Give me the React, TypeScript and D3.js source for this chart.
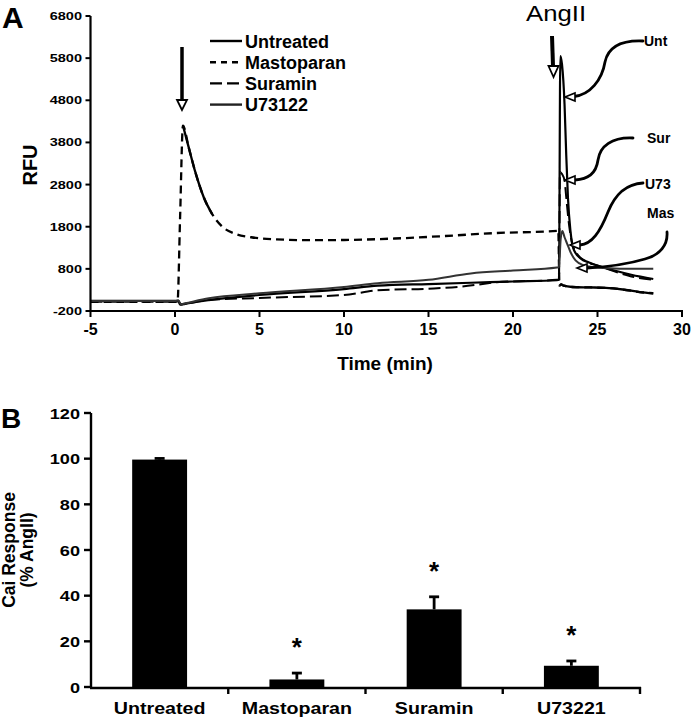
import React from "react";
import * as d3 from "d3";

// ---------- Panel A data (time in min, RFU) ----------
const untreatedT = [-5, 0, 0.2, 0.3, 0.6, 1, 2, 5, 10, 12, 15, 17.5, 20, 22.6, 22.72, 22.8, 22.9, 23.05, 23.15, 23.25, 23.4, 23.6, 24, 24.5, 25.2, 26, 27, 28.3];
const untreatedV = [40, 40, 45, -50, -30, 0, 60, 180, 320, 400, 440, 470, 500, 530, 540, 5850, 5650, 4700, 3500, 2500, 1700, 1250, 1050, 950, 850, 760, 660, 560];

const mastoparanT = [-5, 0, 0.15, 0.3, 0.47, 0.8, 1.2, 1.7, 2.2, 2.8, 3.5, 4.5, 6, 8, 10, 13, 16, 19, 22.6, 22.68, 22.75, 22.85, 23.0, 23.5, 24.5, 25.5, 26.5, 27.5, 28.3];
const mastoparanV = [20, 20, 30, 2000, 4200, 3700, 3100, 2500, 2100, 1800, 1640, 1550, 1500, 1480, 1485, 1520, 1580, 1650, 1700, 1720, 400, 430, 400, 370, 360, 350, 310, 250, 220];

const suraminT = [-5, 0, 0.2, 0.35, 0.7, 2, 5, 10, 12, 15, 17, 19, 22.6, 22.72, 22.78, 22.9, 23.05, 23.15, 23.3, 23.5, 23.8, 24.3, 25, 26, 27, 28.3];
const suraminV = [20, 20, 25, -40, -20, 60, 110, 180, 290, 330, 380, 480, 540, 550, 3100, 3050, 2900, 2500, 1900, 1400, 1150, 980, 880, 740, 620, 540];

const u73122T = [-5, 0, 0.2, 0.35, 0.7, 2, 5, 10, 12, 15, 17.5, 20, 22.6, 22.72, 22.82, 22.92, 23.05, 23.2, 23.4, 23.7, 24.2, 25, 26, 27, 28.3];
const u73122V = [40, 40, 50, -40, -10, 100, 220, 370, 460, 540, 690, 760, 830, 840, 1500, 1700, 1550, 1400, 1200, 1000, 880, 830, 810, 800, 800];

const seriesNames = ["Untreated", "Mastoparan", "Suramin", "U73122"];
const timeTicks = [-5, 0, 5, 10, 15, 20, 25, 30];
const rfuTicks = [-200, 800, 1800, 2800, 3800, 4800, 5800, 6800];
const calloutLabels = ["Unt", "Sur", "U73", "Mas"];

// ---------- Panel B data ----------
const categories = ["Untreated", "Mastoparan", "Suramin", "U73221"];
const responses = [99.6, 3.3, 34.0, 9.3];
const errors = [0.5, 2.8, 5.5, 2.1];
const significant = [false, true, true, true];
const pctTicks = [0, 20, 40, 60, 80, 100, 120];

const FONT = "'Liberation Sans', Arial, Helvetica, sans-serif";

function T({ x, y, size, sx = 1, anchor = "start", weight = "bold", rotate = 0, children }: any) {
  return (
    <text
      transform={`translate(${x},${y}) rotate(${rotate}) scale(${sx},1)`}
      fontSize={size}
      fontWeight={weight}
      textAnchor={anchor}
      fontFamily={FONT}
      fill="#000"
    >
      {children}
    </text>
  );
}

function zip(t: number[], v: number[]) {
  return t.map((d, i) => [d, v[i]] as [number, number]);
}

export default function App() {
  // Panel A scales
  const xA = d3.scaleLinear().domain([-5, 30]).range([90.5, 682]);
  const yA = d3.scaleLinear().domain([-200, 6800]).range([311, 16]);
  const line = d3
    .line<[number, number]>()
    .x((d) => xA(d[0]))
    .y((d) => yA(d[1]))
    .curve(d3.curveMonotoneX);

  const series = [
    { name: seriesNames[0], data: zip(untreatedT, untreatedV), dash: "", color: "#000", w: 2.2, solidParts: [] as number[][] },
    { name: seriesNames[1], data: zip(mastoparanT, mastoparanV), dash: "8,5", color: "#000", w: 2.3, solidParts: [[0.47, 2.3], [22.75, 28.3]] },
    { name: seriesNames[2], data: zip(suraminT, suraminV), dash: "12,5", color: "#000", w: 2, solidParts: [] as number[][] },
    { name: seriesNames[3], data: zip(u73122T, u73122V), dash: "", color: "#333", w: 2, solidParts: [] as number[][] },
  ];
  const legendDash = ["", "6,5", "12,5", ""];

  // Panel B scales
  const xB = d3.scaleBand<string>().domain(categories).range([91, 640]).paddingInner(0.6).paddingOuter(0.3);
  const yB = d3.scaleLinear().domain([0, 120]).range([687, 413]);
  const step = xB.step();

  const openHead = (tx: number, ty: number, dir: "left" | "down", len = 10, half = 4.5) => {
    if (dir === "left") return `${tx},${ty} ${tx + len},${ty - half} ${tx + len},${ty + half}`;
    return `${tx},${ty} ${tx - half},${ty - len} ${tx + half},${ty - len}`;
  };

  const callouts = [
    { label: calloutLabels[0], lx: 644, ly: 46, path: "M643,41 C620,40 608,48 605,62 C602,80 590,95 574,96.5", tip: [565, 97] },
    { label: calloutLabels[1], lx: 647, ly: 143, path: "M633,138 C612,137 600,146 598,160 C596,174 588,179 575,180", tip: [565, 180] },
    { label: calloutLabels[2], lx: 645, ly: 189, path: "M643,183 C625,184 615,195 608,212 C600,232 592,244 580,245", tip: [570, 245] },
    { label: calloutLabels[3], lx: 647, ly: 218, path: "M667,232 C668,245 660,255 645,259 C625,265 605,267 587,268", tip: [577, 268] },
  ];

  return (
    <svg width={693} height={720} style={{ position: "absolute", left: 0, top: 0, background: "#fff" }}>
      <rect x={0} y={0} width={693} height={720} fill="#fff" />
      {/* ================= Panel A ================= */}
      <T x={2} y={28} size={30}>A</T>

      {/* curves */}
      {series.map((s) => (
        <g key={s.name}>
          <path
            d={line(s.data) || ""}
            fill="none"
            stroke={s.color}
            strokeWidth={s.w}
            strokeDasharray={s.dash || undefined}
            strokeLinejoin="round"
          />
          {s.solidParts.map(([a, b], k) => (
            <path
              key={k}
              d={line(s.data.filter((d) => d[0] >= a && d[0] <= b)) || ""}
              fill="none"
              stroke={s.color}
              strokeWidth={s.w}
              strokeLinejoin="round"
            />
          ))}
        </g>
      ))}

      {/* axes */}
      <line x1={xA(-5)} x2={xA(-5)} y1={yA(6800)} y2={yA(-200) + 1} stroke="#000" strokeWidth={2.2} />
      <line x1={xA(-5) - 1} x2={xA(30) + 1} y1={yA(-200)} y2={yA(-200)} stroke="#000" strokeWidth={2.2} />
      {rfuTicks.map((v) => (
        <g key={v}>
          <line x1={xA(-5) - 5} x2={xA(-5)} y1={yA(v)} y2={yA(v)} stroke="#000" strokeWidth={2} />
          <T x={82} y={yA(v) + 4} size={11} sx={1.32} anchor="end">{v}</T>
        </g>
      ))}
      {timeTicks.map((t) => (
        <g key={t}>
          <line x1={xA(t)} x2={xA(t)} y1={yA(-200)} y2={yA(-200) + 6} stroke="#000" strokeWidth={2} />
          <T x={xA(t)} y={335} size={16} anchor="middle">{t}</T>
        </g>
      ))}
      <T x={385} y={370} size={19} anchor="middle">Time (min)</T>
      <T x={37} y={165} size={20} anchor="middle" rotate={-90}>RFU</T>

      {/* legend */}
      {seriesNames.map((n, i) => (
        <g key={n}>
          <line x1={210} x2={242} y1={41 + i * 21.2} y2={41 + i * 21.2} stroke={i === 3 ? "#222" : "#000"} strokeWidth={2.4} strokeDasharray={legendDash[i] || undefined} />
          <T x={245} y={47.5 + i * 21.2} size={18}>{n}</T>
        </g>
      ))}

      {/* injection arrows */}
      <line x1={182} y1={47} x2={182} y2={101} stroke="#000" strokeWidth={3.5} />
      <polygon points={openHead(182, 110, "down", 10, 5)} fill="#fff" stroke="#000" strokeWidth={1.8} />
      <line x1={552} y1={36} x2={553} y2={66} stroke="#000" strokeWidth={4} />
      <polygon points={openHead(553.5, 77, "down", 11, 5)} fill="#fff" stroke="#000" strokeWidth={1.8} />
      <T x={526} y={21} size={23} sx={1.12} weight="normal">AngII</T>

      {/* callouts */}
      {callouts.map((c) => (
        <g key={c.label}>
          <path d={c.path} fill="none" stroke="#000" strokeWidth={2.8} strokeLinecap="round" />
          <polygon points={openHead(c.tip[0], c.tip[1], "left", 10, 4)} fill="#fff" stroke="#000" strokeWidth={1.6} />
          <T x={c.lx} y={c.ly} size={14}>{c.label}</T>
        </g>
      ))}

      {/* ================= Panel B ================= */}
      <T x={1} y={428} size={28}>B</T>

      {categories.map((c, i) => {
        const x0 = xB(c) as number;
        const cx = x0 + xB.bandwidth() / 2;
        const top = yB(responses[i] + errors[i]);
        return (
          <g key={c}>
            <rect x={x0} y={yB(responses[i])} width={xB.bandwidth()} height={yB(0) - yB(responses[i])} fill="#000" />
            <line x1={cx} x2={cx} y1={yB(responses[i])} y2={top} stroke="#000" strokeWidth={2.8} />
            <line x1={cx - 5} x2={cx + 5} y1={top} y2={top} stroke="#000" strokeWidth={2.8} />
            {significant[i] && (
              <T x={cx} y={top - 31 + 14} size={26} anchor="middle">*</T>
            )}
            <T x={cx} y={714} size={16.5} sx={1.19} anchor="middle">{c}</T>
          </g>
        );
      })}

      <line x1={91} x2={91} y1={yB(120)} y2={yB(0) + 1} stroke="#000" strokeWidth={2.4} />
      <line x1={90} x2={640 + 1} y1={yB(0) + 1} y2={yB(0) + 1} stroke="#000" strokeWidth={2.4} />
      {categories.map((c, i) => (
        <line key={c} x1={91 + (i + 1) * step} x2={91 + (i + 1) * step} y1={yB(0)} y2={yB(0) + 7} stroke="#000" strokeWidth={2.4} />
      ))}
      {pctTicks.map((v) => (
        <g key={v}>
          <line x1={84} x2={91} y1={yB(v)} y2={yB(v)} stroke="#000" strokeWidth={2.4} />
          <T x={80} y={yB(v) + 5.5} size={14.5} sx={1.25} anchor="end">{v}</T>
        </g>
      ))}
      <T x={15} y={550} size={17.5} anchor="middle" rotate={-90}>Cai Response</T>
      <T x={32.5} y={550} size={17.5} anchor="middle" rotate={-90}>(% AngII)</T>
    </svg>
  );
}
